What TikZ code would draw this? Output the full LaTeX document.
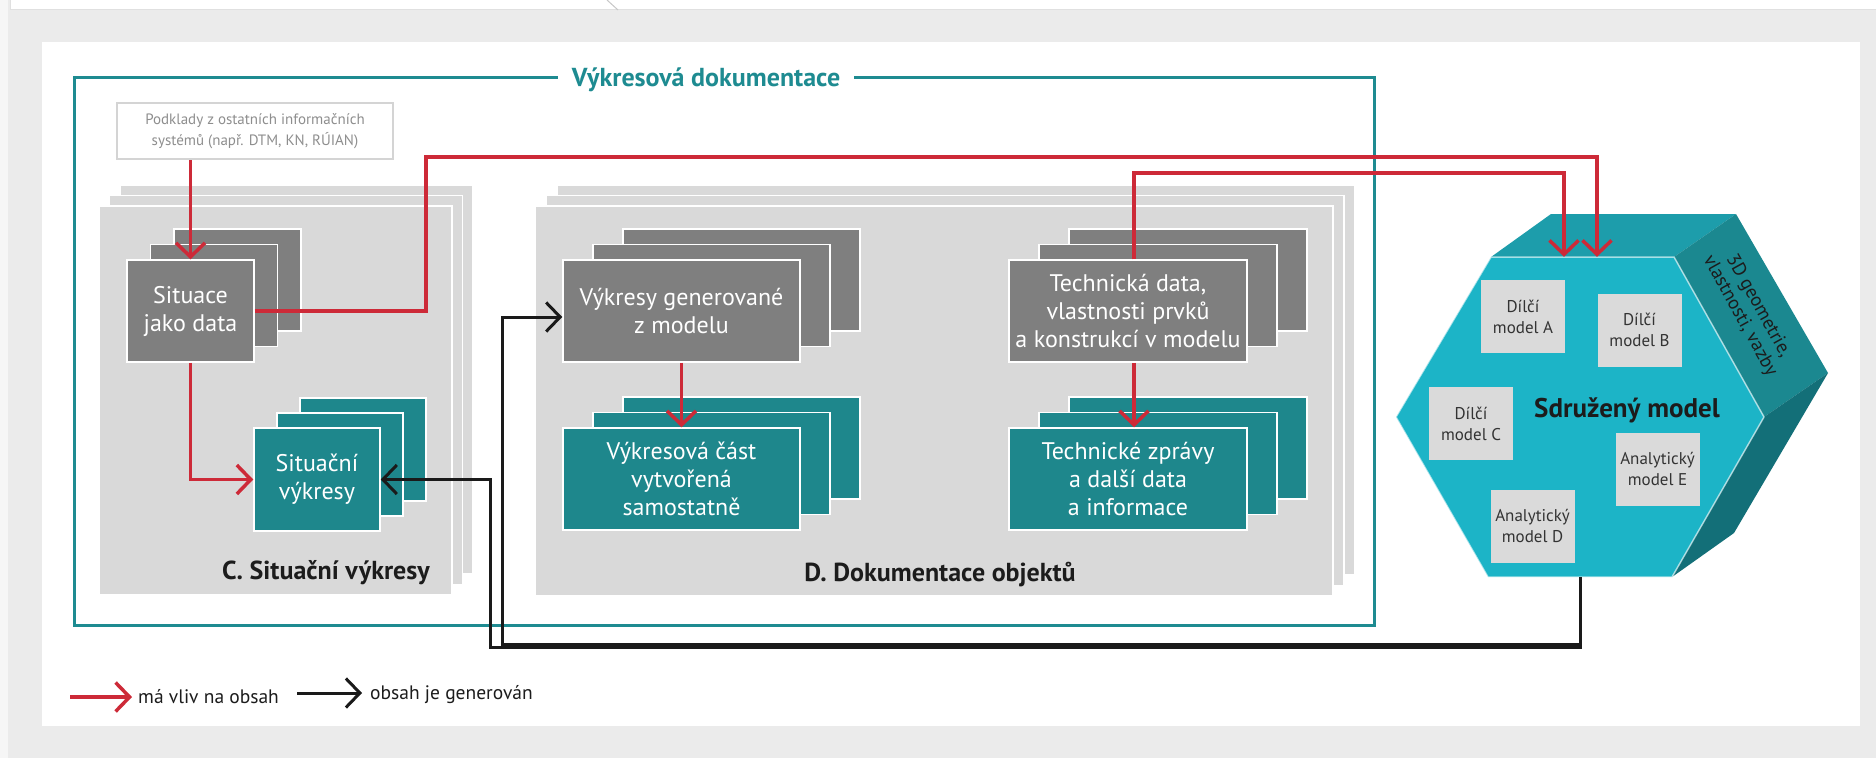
\documentclass[tikz,border=0pt]{standalone}
\usepackage{fontspec}
\setmainfont{PT Sans}
\usetikzlibrary{arrows.meta,calc}
\definecolor{bgc}{HTML}{EBEBEB}
\definecolor{edgec}{HTML}{F6F6F6}
\definecolor{framec}{HTML}{1E8B91}
\definecolor{panelc}{HTML}{D9D9D9}
\definecolor{darkc}{HTML}{7F7F7F}
\definecolor{tealc}{HTML}{1E878C}
\definecolor{redc}{HTML}{CD2A38}
\definecolor{blkc}{HTML}{1A1A1A}
\definecolor{hexfc}{HTML}{1CB4C7}
\definecolor{hextc}{HTML}{1D9DAB}
\definecolor{hexsc}{HTML}{1B8890}
\definecolor{hexlc}{HTML}{136F78}
\definecolor{podc}{HTML}{8E8E8E}
\definecolor{podb}{HTML}{D4D4D4}
\definecolor{txtc}{HTML}{1C1C1C}
\definecolor{subtc}{HTML}{333333}
\definecolor{subbox}{HTML}{DADADA}
\newcommand{\layerpair}[7]{%
  \filldraw[fill=#1,draw=white,line width=1.5pt] ({#2+2*(#6)},{#3+2*(#7)}) rectangle ({#4+2*(#6)},{#5+2*(#7)});
  \filldraw[fill=#1,draw=white,line width=1.5pt] ({#2+#6},{#3+#7}) rectangle ({#4+#6},{#5+#7});
}
\tikzset{
  sheet/.style={draw=white,line width=1.5pt,inner sep=0pt,align=center,text=white,font=\fontsize{24}{28}\selectfont},
  darkbox/.style={sheet,fill=darkc},
  tealbox/.style={sheet,fill=tealc},
  panel/.style={fill=panelc,draw=white,line width=1.5pt,inner sep=0pt},
  subm/.style={fill=subbox,inner sep=0pt,minimum width=84pt,minimum height=73pt,align=center,text=subtc,font=\fontsize{17}{21}\selectfont},
  ptitle/.style={font=\bfseries\fontsize{26}{30}\selectfont,text=txtc,anchor=base,inner sep=0pt},
  redarr/.style={draw=redc,line width=3.5pt,-{Straight Barb[length=14pt,width=29pt]}},
  blkarr/.style={draw=blkc,line width=3pt,-{Straight Barb[length=14pt,width=29pt]}},
  legtxt/.style={anchor=base west,inner sep=0pt,text=txtc,font=\fontsize{19.5}{23}\selectfont}
}
\begin{document}
\begin{tikzpicture}[x=1pt,y=-1pt]
\useasboundingbox (0,0) rectangle (1876,758);
\fill[bgc] (0,0) rectangle (1876,758);
\fill[edgec] (0,0) rectangle (8,758);
\fill[white] (10,0) rectangle (1876,9);
\draw[line width=1pt,draw=black!12] (10,0) -- (10,9.5) -- (1876,9.5);
\draw[line width=1pt,draw=black!22] (607,0) -- (618,10);
\fill[white] (42,42) rectangle (1860,726);
% frame
\draw[framec,line width=3pt] (74,77) rectangle (1374,625);
\node[fill=white,text=framec,font=\bfseries\fontsize{26}{30}\selectfont,inner xsep=14pt,inner ysep=3pt,anchor=base] (title) at (706,86) {Výkresová dokumentace};
% podklady
\node[draw=podb,line width=2pt,fill=white,text=podc,align=center,font=\fontsize{15}{21}\selectfont,minimum width=276pt,minimum height=56pt,inner sep=0pt] (pod) at (255,131) {Podklady z ostatních informačních\\systémů (např. DTM, KN, RÚIAN)};
% panels
\layerpair{panelc}{99}{206}{452}{595}{10.5}{-10.5}
\node[panel,minimum width=353pt,minimum height=389pt] (cpan) at (275.5,400.5) {};
\layerpair{panelc}{535}{206}{1333}{596}{11}{-10.5}
\node[panel,minimum width=798pt,minimum height=390pt] (dpan) at (934,401) {};
\node[ptitle] (ctitle) at (326,579) {C. Situační výkresy};
\node[ptitle] (dtitle) at (940,581) {D. Dokumentace objektů};
% C boxes
\layerpair{darkc}{127}{260}{254}{362}{23.5}{-15.5}
\node[darkbox,minimum width=127pt,minimum height=102pt] (sjd) at (190.5,311) {Situace\\jako data};
\layerpair{tealc}{254}{428}{380}{531}{23}{-15}
\node[tealbox,minimum width=126pt,minimum height=103pt] (sv) at (317,479.5) {Situační\\výkresy};
% D boxes
\layerpair{darkc}{563}{260}{800}{362}{30}{-15.5}
\node[darkbox,minimum width=237pt,minimum height=102pt] (vg) at (681.5,311) {Výkresy generované\\z modelu};
\layerpair{tealc}{563}{428}{800}{530}{30}{-15.5}
\node[tealbox,minimum width=237pt,minimum height=102pt] (vc) at (681.5,479) {Výkresová část\\vytvořená\\samostatně};
\layerpair{darkc}{1009}{260}{1247}{362}{30}{-15.5}
\node[darkbox,minimum width=238pt,minimum height=102pt] (td) at (1128,311) {Technická data,\\vlastnosti prvků\\a konstrukcí v modelu};
\layerpair{tealc}{1009}{428}{1247}{530}{30}{-15.5}
\node[tealbox,minimum width=238pt,minimum height=102pt] (tz) at (1128,479) {Technické zprávy\\a další data\\a informace};
% hexagon
\fill[hextc] (1491,257) -- (1551,214) -- (1736,214) -- (1674,257) -- cycle;
\fill[hexsc] (1674,257) -- (1736,214) -- (1828,373) -- (1764,417) -- cycle;
\fill[hexlc] (1764,417) -- (1828,373) -- (1734,533) -- (1672,577) -- cycle;
\fill[hexfc] (1491,257) -- (1674,257) -- (1764,417) -- (1672,577) -- (1488,577) -- (1396,417) -- cycle;
\draw[white,opacity=0.6,line width=1.5pt,line join=round] (1396,417) -- (1491,257) -- (1674,257) -- (1764,417) -- (1672,577) -- (1488,577) -- cycle;
\node[minimum width=368pt,minimum height=320pt,inner sep=0pt] (hexf) at (1580,417) {};
\node[rotate=-61,align=center,text=txtc,font=\fontsize{19}{21}\selectfont,inner sep=0pt] (side) at (1749,311) {3D geometrie,\\vlastnosti, vazby};
\node[font=\bfseries\fontsize{27}{30}\selectfont,text=txtc,inner sep=0pt] (sdm) at (1627,410) {Sdružený model};
\node[subm] (dA) at (1523,316.5) {Dílčí\\model A};
\node[subm] (dB) at (1639.5,330) {Dílčí\\model B};
\node[subm] (dC) at (1471,423.5) {Dílčí\\model C};
\node[subm] (aE) at (1657.5,469) {Analytický\\model E};
\node[subm] (aD) at (1532.5,526) {Analytický\\model D};
% connectors
\coordinate (ra) at (426,157);
\coordinate (rb) at (1597,157);
\coordinate (rc) at (1564,173);
\coordinate (ba) at (490,647);
\coordinate (bb) at (502,644);
\draw[blkarr] (hexf.south) |- (ba) |- (sv.east);
\draw[blkarr] (hexf.south) |- (bb) |- ([yshift=-6pt]vg.west);
\draw[redarr] (sjd.north |- pod.south) -- (sjd.north);
\draw[redarr] (sjd.east) -| (ra) -- (rb) -- (rb |- hexf.north);
\draw[redarr] ([xshift=6pt]td.north) |- (rc) -- (rc |- hexf.north);
\draw[redarr] (sjd.south) |- (sv.west);
\draw[redarr] (vg.south) -- (vc.north);
\draw[redarr] ([xshift=6pt]td.south) -- ([xshift=6pt]tz.north);
% legend
\coordinate (l1a) at (70,697);
\coordinate (l1b) at (132,697);
\draw[redarr] (l1a) -- (l1b);
\node[legtxt] (l1t) at (138,703) {má vliv na obsah};
\coordinate (l2a) at (297,693);
\coordinate (l2b) at (362,693);
\draw[blkarr] (l2a) -- (l2b);
\node[legtxt] (l2t) at (370,699) {obsah je generován};
\end{tikzpicture}
\end{document}
